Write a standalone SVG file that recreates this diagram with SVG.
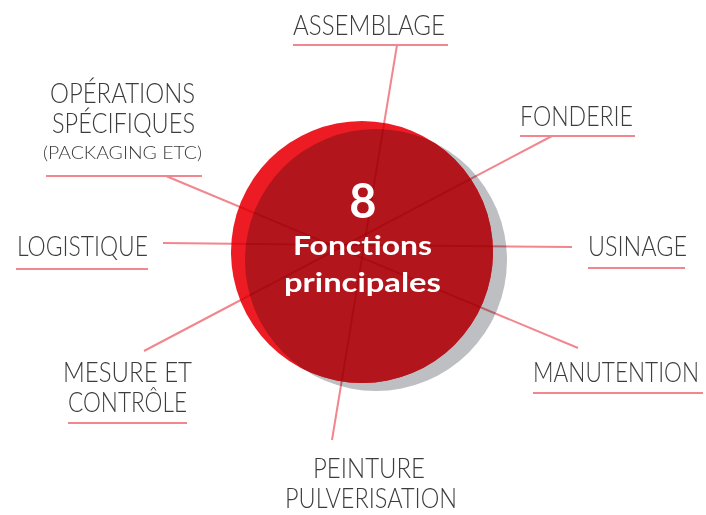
<svg xmlns="http://www.w3.org/2000/svg" width="706" height="515" viewBox="0 0 706 515">
  <style>
    .lbl { font-family: Lato, "Open Sans", "Liberation Sans", sans-serif; font-weight: 300; font-size: 27px; fill: #3c3c3c; }
    .small { font-size: 18.5px; }
    .ctr { font-family: Lato, "Open Sans", "Liberation Sans", sans-serif; font-weight: 700; fill: #ffffff; text-anchor: middle; }
    .ul { stroke: #f2868e; stroke-width: 2; fill: none; }
    .conn { stroke: #f2868e; stroke-width: 2; fill: none; mix-blend-mode: multiply; stroke-linecap: butt; }
  </style>
  <defs>
    <clipPath id="redClip"><circle cx="362" cy="252" r="131"/></clipPath>
  </defs>
  <rect width="706" height="515" fill="#ffffff"/>

  <g id="hub">
    <circle cx="376" cy="260" r="131" fill="#bebfc3"/>
    <circle cx="362" cy="252" r="131" fill="#ed1c24"/>
    <circle cx="376" cy="260" r="131" fill="#b2151c" clip-path="url(#redClip)"/>
  </g>

  <g id="connectors">
    <path class="conn" d="M397,45 L363.6,248"/>
    <path class="conn" d="M332,440 L363.6,248"/>
    <path class="conn" d="M552,136 L364,235.1"/>
    <path class="conn" d="M144,351 L364,235.1"/>
    <path class="conn" d="M572,247 L364,245"/>
    <path class="conn" d="M163,243 L364,245"/>
    <path class="conn" d="M166,176 L364,258.7"/>
    <path class="conn" d="M578,348 L364,258.7"/>
  </g>

  <g id="hub-label">
    <text class="ctr" x="363" y="218" font-size="47">8</text>
    <text class="ctr" x="362.5" y="255" font-size="26" textLength="139" lengthAdjust="spacingAndGlyphs">Fonctions</text>
    <text class="ctr" x="362.5" y="292" font-size="26" textLength="157" lengthAdjust="spacingAndGlyphs">principales</text>
  </g>

  <g id="assemblage">
    <text class="lbl" x="293" y="35" textLength="152" lengthAdjust="spacingAndGlyphs">ASSEMBLAGE</text>
    <line class="ul" x1="293" y1="45" x2="448" y2="45"/>
  </g>
  <g id="fonderie">
    <text class="lbl" x="520" y="126" textLength="113" lengthAdjust="spacingAndGlyphs">FONDERIE</text>
    <line class="ul" x1="520" y1="136" x2="635" y2="136"/>
  </g>
  <g id="operations">
    <text class="lbl" x="50" y="103" textLength="145" lengthAdjust="spacingAndGlyphs">OPÉRATIONS</text>
    <text class="lbl" x="52" y="133" textLength="143" lengthAdjust="spacingAndGlyphs">SPÉCIFIQUES</text>
    <text class="lbl small" x="43" y="159" textLength="159" lengthAdjust="spacingAndGlyphs">(PACKAGING ETC)</text>
    <line class="ul" x1="46" y1="176" x2="202" y2="176"/>
  </g>
  <g id="logistique">
    <text class="lbl" x="17" y="256" textLength="131" lengthAdjust="spacingAndGlyphs">LOGISTIQUE</text>
    <line class="ul" x1="16" y1="269" x2="148" y2="269"/>
  </g>
  <g id="usinage">
    <text class="lbl" x="588" y="256" textLength="99" lengthAdjust="spacingAndGlyphs">USINAGE</text>
    <line class="ul" x1="588" y1="268" x2="685" y2="268"/>
  </g>
  <g id="manutention">
    <text class="lbl" x="533" y="382" textLength="166" lengthAdjust="spacingAndGlyphs">MANUTENTION</text>
    <line class="ul" x1="533" y1="393" x2="703" y2="393"/>
  </g>
  <g id="mesure">
    <text class="lbl" x="63" y="382" textLength="129" lengthAdjust="spacingAndGlyphs">MESURE ET</text>
    <text class="lbl" x="68" y="412" textLength="119" lengthAdjust="spacingAndGlyphs">CONTRÔLE</text>
    <line class="ul" x1="68" y1="423" x2="187" y2="423"/>
  </g>
  <g id="peinture">
    <text class="lbl" x="313" y="478" textLength="112" lengthAdjust="spacingAndGlyphs">PEINTURE</text>
    <text class="lbl" x="285" y="508" textLength="172" lengthAdjust="spacingAndGlyphs">PULVERISATION</text>
  </g>
</svg>
